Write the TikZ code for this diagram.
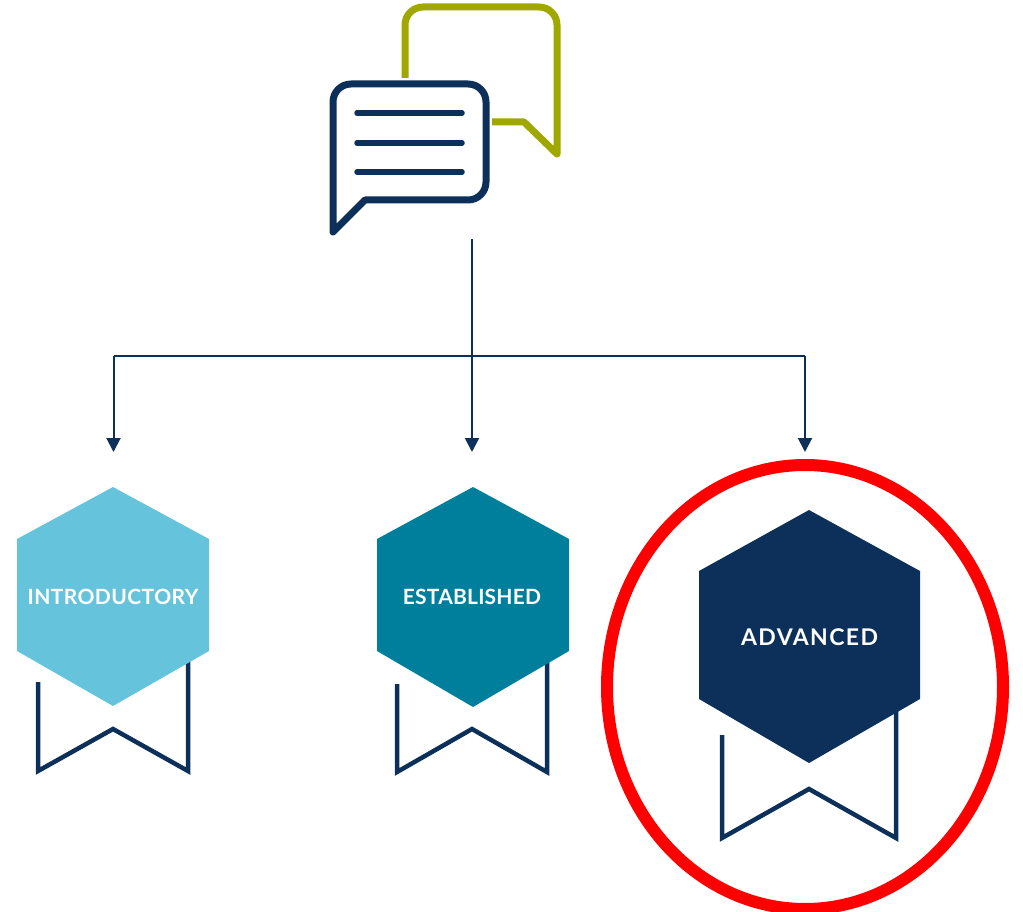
\documentclass[tikz,border=0pt]{standalone}
\usepackage{fontspec}
\setmainfont{Lato}
\usetikzlibrary{arrows.meta}
\definecolor{navy}{HTML}{0C3059}
\definecolor{olivegreen}{HTML}{A0A800}
\definecolor{lightblue}{HTML}{66C3DC}
\definecolor{tealblue}{HTML}{007F9C}
\tikzset{
  x=1pt,y=-1pt,
  bubblenavy/.style={draw=navy,line width=7pt,line join=round},
  bubblegreen/.style={draw=olivegreen,line width=7pt,line join=round},
  textline/.style={draw=navy,line width=5.5pt,line cap=round},
  ribbon/.style={draw=navy,line width=4.5pt,line join=miter},
  conn/.style={draw=navy,line width=1.3pt},
  arrowconn/.style={draw=navy,line width=2pt,-{Triangle[length=14pt,width=14pt]}},
  hexlabel/.style={text=white,inner sep=0pt},
  introfont/.style={font=\bfseries\fontsize{21}{21}\selectfont\addfontfeature{LetterSpace=2}},
  estfont/.style={font=\bfseries\fontsize{21}{21}\selectfont\addfontfeature{LetterSpace=1}},
  advfont/.style={font=\bfseries\fontsize{23}{23}\selectfont\addfontfeature{LetterSpace=6}},
}
\begin{document}
\begin{tikzpicture}
\useasboundingbox (0,0) rectangle (1023,912);
% speech bubbles
\draw[bubblegreen] (405,78) -- (405,25) .. controls (405,15) and (413,7) .. (423,7) -- (539,7) .. controls (549,7) and (557,15) .. (557,25) -- (557,154) -- (524,122) -- (492,122);
\draw[bubblenavy] (365,200) -- (468,200) .. controls (478,200) and (486,192) .. (486,182) -- (486,102) .. controls (486,92) and (478,84) .. (468,84) -- (351,84) .. controls (341,84) and (333,92) .. (333,102) -- (333,232) -- cycle;
\draw[textline] (357,113) -- (462,113);
\draw[textline] (357,143) -- (462,143);
\draw[textline] (357,172) -- (462,172);
% connectors
\coordinate (icon) at (472,239);
\coordinate (junction) at (472,356);
\coordinate (left) at (113.5,356);
\coordinate (right) at (805,356);
\coordinate (introtop) at (113.5,452);
\coordinate (esttop) at (472,452);
\coordinate (advtop) at (805,452);
\draw[conn] (icon) -- (junction);
\draw[conn] (left) -- (right);
\draw[arrowconn] (left) -- (introtop);
\draw[arrowconn] (junction) -- (esttop);
\draw[arrowconn] (right) -- (advtop);
% introductory
\draw[ribbon] (38,682) -- (38,771) -- (113,729) -- (188,771) -- (188,660);
\fill[lightblue] (113,487) -- (209,539) -- (209,651) -- (113,706) -- (17,651) -- (17,539) -- cycle;
\node[hexlabel,introfont] (intro) at (113,597) {INTRODUCTORY};
% established
\draw[ribbon] (397,684) -- (397,772) -- (472,729) -- (547,772) -- (547,660);
\fill[tealblue] (473,487) -- (569,539) -- (569,651) -- (473,707) -- (377,651) -- (377,539) -- cycle;
\node[hexlabel,estfont] (est) at (472,597) {ESTABLISHED};
% advanced
\draw[ribbon] (722,735) -- (722,838) -- (809,789) -- (896,838) -- (896,710);
\fill[navy] (809,510) -- (920,571) -- (920,699) -- (809,763) -- (699,699) -- (699,571) -- cycle;
\node[hexlabel,advfont] (adv) at (809.5,637) {ADVANCED};
% highlight ring
\draw[red,line width=12pt] (805,687) ellipse [x radius=198,y radius=222];
\end{tikzpicture}
\end{document}
